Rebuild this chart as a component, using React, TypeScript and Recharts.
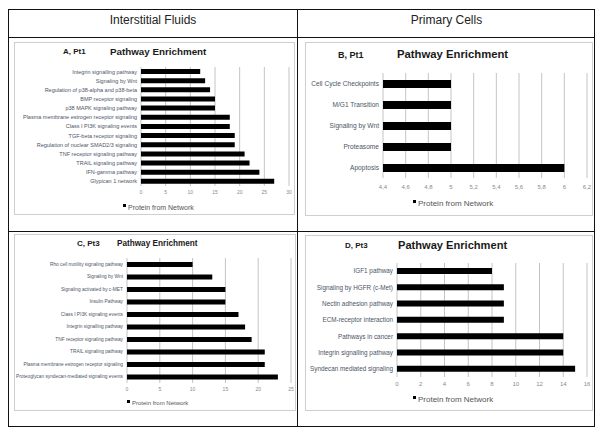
import { Bar, BarChart, CartesianGrid, XAxis, YAxis } from "recharts";

const FONT = '"Liberation Sans", Arial, Helvetica, sans-serif';

// A, Pt1 (interstitial fluids)
const fluidPt1Pathways = [
  "Integrin signalling pathway",
  "Signaling by Wnt",
  "Regulation of p38-alpha and p38-beta",
  "BMP receptor signaling",
  "p38 MAPK signaling pathway",
  "Plasma membrane estrogen receptor signaling",
  "Class I PI3K signaling events",
  "TGF-beta receptor signaling",
  "Regulation of nuclear SMAD2/3 signaling",
  "TNF receptor signaling pathway",
  "TRAIL signaling pathway",
  "IFN-gamma pathway",
  "Glypican 1 network",
];
const fluidPt1Counts = [12, 13, 14, 15, 15, 18, 18, 19, 19, 21, 22, 24, 27];
const fluidPt1Ticks = [0, 5, 10, 15, 20, 25, 30];

// B, Pt1 (primary cells)
const cellsPt1Pathways = [
  "Cell Cycle Checkpoints",
  "M/G1 Transition",
  "Signaling by Wnt",
  "Proteasome",
  "Apoptosis",
];
const cellsPt1Counts = [5, 5, 5, 5, 6];
const cellsPt1Ticks = [4.4, 4.6, 4.8, 5, 5.2, 5.4, 5.6, 5.8, 6, 6.2];

// C, Pt3 (interstitial fluids)
const fluidPt3Pathways = [
  "Rho cell motility signaling pathway",
  "Signaling by Wnt",
  "Signaling activated by c-MET",
  "Insulin Pathway",
  "Class I PI3K signaling events",
  "Integrin signalling pathway",
  "TNF receptor signaling pathway",
  "TRAIL signaling pathway",
  "Plasma membrane estrogen receptor signaling",
  "Proteoglycan syndecan-mediated signaling events",
];
const fluidPt3Counts = [10, 13, 15, 15, 17, 18, 19, 21, 21, 23];
const fluidPt3Ticks = [0, 5, 10, 15, 20, 25];

// D, Pt3 (primary cells)
const cellsPt3Pathways = [
  "IGF1 pathway",
  "Signaling by HGFR (c-Met)",
  "Nectin adhesion pathway",
  "ECM-receptor interaction",
  "Pathways in cancer",
  "Integrin signalling pathway",
  "Syndecan mediated signaling",
];
const cellsPt3Counts = [8, 9, 9, 9, 14, 14, 15];
const cellsPt3Ticks = [0, 2, 4, 6, 8, 10, 12, 14, 16];

const toRows = (names: string[], counts: number[]) =>
  names.map((name, i) => ({ name, count: counts[i] }));

type Box = { x: number; y: number; w: number; h: number };

type PanelProps = {
  tag: string;
  names: string[];
  counts: number[];
  ticks: number[];
  box: Box;
  margin: { top: number; right: number; bottom: number };
  yWidth: number;
  barSize: number;
  labelSize: number;
  tickSize: number;
  tickGap: number;
  tagPos: { x: number; y: number; size: number };
  title: { x: number; y: number; size: number };
  legend: { x: number; y: number; size: number };
  comma?: boolean;
};

function Panel(p: PanelProps) {
  const data = toRows(p.names, p.counts);
  const fmt = (v: number) => (p.comma ? String(v).replace(".", ",") : String(v));
  const CategoryTick = (t: any) => (
    <text
      x={t.x}
      y={t.y}
      dy="0.35em"
      textAnchor="end"
      fontSize={p.labelSize}
      fill="#4c5566"
      fontFamily={FONT}
    >
      {t.payload.value}
    </text>
  );
  return (
    <>
      <div
        style={{
          position: "absolute",
          left: p.box.x,
          top: p.box.y,
          width: p.box.w,
          height: p.box.h,
          boxSizing: "border-box",
          border: "1px solid #cfcfcf",
        }}
      >
        <BarChart
          width={p.box.w - 2}
          height={p.box.h - 2}
          data={data}
          layout="vertical"
          margin={{ top: p.margin.top - 1, right: p.margin.right - 1, bottom: p.margin.bottom - 1, left: -1 }}
        >
          <CartesianGrid horizontal={false} stroke="#c4c4c4" />
          <XAxis
            type="number"
            domain={[p.ticks[0], p.ticks[p.ticks.length - 1]]}
            ticks={p.ticks}
            tickFormatter={fmt}
            axisLine={false}
            tickLine={false}
            tickSize={0}
            tickMargin={p.tickGap}
            height={14}
            interval={0}
            tick={{ fontSize: p.tickSize, fill: "#8a8a8a", fontFamily: FONT }}
          />
          <YAxis
            type="category"
            dataKey="name"
            width={p.yWidth}
            axisLine={false}
            tickLine={false}
            tickSize={0}
            tickMargin={4}
            interval={0}
            tick={CategoryTick}
          />
          <Bar dataKey="count" name="Protein from Network" fill="#000" barSize={p.barSize} isAnimationActive={false} />
        </BarChart>
      </div>
      <Text x={p.tagPos.x} y={p.tagPos.y} size={p.tagPos.size} bold>
        {p.tag}
      </Text>
      <Text x={p.title.x} y={p.title.y} size={p.title.size} bold>
        Pathway Enrichment
      </Text>
      <div
        style={{
          position: "absolute",
          left: p.legend.x - 5,
          top: p.legend.y - p.legend.size * 0.45,
          width: 3,
          height: 3,
          background: "#000",
        }}
      />
      <Text x={p.legend.x} y={p.legend.y} size={p.legend.size} color="#555">
        Protein from Network
      </Text>
    </>
  );
}

function Text(props: { x: number; y: number; size: number; bold?: boolean; color?: string; children: string }) {
  return (
    <div
      style={{
        position: "absolute",
        left: props.x,
        top: props.y,
        transform: "translateY(-50%)",
        fontSize: props.size,
        lineHeight: 1,
        fontWeight: props.bold ? 700 : 400,
        color: props.color ?? "#1a1a1a",
        whiteSpace: "nowrap",
        fontFamily: FONT,
      }}
    >
      {props.children}
    </div>
  );
}

const line = "1.5px solid #111";

export default function App() {
  return (
    <div
      style={{
        position: "absolute",
        left: 0,
        top: 0,
        width: 601,
        height: 433,
        background: "#fff",
        fontFamily: FONT,
        overflow: "hidden",
      }}
    >
      {/* table frame */}
      <div style={{ position: "absolute", left: 8, top: 9, width: 587, height: 418, boxSizing: "border-box", border: line }} />
      <div style={{ position: "absolute", left: 8, top: 37, width: 587, borderTop: line }} />
      <div style={{ position: "absolute", left: 8, top: 231, width: 587, borderTop: line }} />
      <div style={{ position: "absolute", left: 297, top: 9, height: 418, borderLeft: line }} />
      <div style={{ position: "absolute", left: 8, top: 13, width: 290, textAlign: "center", fontSize: 12, color: "#222" }}>
        Interstitial Fluids
      </div>
      <div style={{ position: "absolute", left: 298, top: 13, width: 297, textAlign: "center", fontSize: 12, color: "#222" }}>
        Primary Cells
      </div>

      <Panel
        tag="A, Pt1"
        names={fluidPt1Pathways}
        counts={fluidPt1Counts}
        ticks={fluidPt1Ticks}
        box={{ x: 14, y: 42, w: 281, h: 173 }}
        margin={{ top: 25, right: 6, bottom: 15 }}
        yWidth={127}
        barSize={5}
        labelSize={5.5}
        tickSize={5}
        tickGap={4}
        tagPos={{ x: 63, y: 52, size: 8 }}
        title={{ x: 110, y: 52, size: 9.8 }}
        legend={{ x: 128, y: 207, size: 7 }}
      />
      <Panel
        tag="B, Pt1"
        names={cellsPt1Pathways}
        counts={cellsPt1Counts}
        ticks={cellsPt1Ticks}
        box={{ x: 305, y: 42, w: 288, h: 174 }}
        margin={{ top: 31, right: 6, bottom: 24 }}
        yWidth={78}
        barSize={8}
        labelSize={6.6}
        tickSize={6}
        tickGap={7}
        tagPos={{ x: 338, y: 55, size: 9 }}
        title={{ x: 397, y: 55, size: 11.3 }}
        legend={{ x: 418, y: 204, size: 8 }}
        comma
      />
      <Panel
        tag="C, Pt3"
        names={fluidPt3Pathways}
        counts={fluidPt3Counts}
        ticks={fluidPt3Ticks}
        box={{ x: 14, y: 234, w: 282, h: 177 }}
        margin={{ top: 24, right: 5, bottom: 14 }}
        yWidth={113}
        barSize={5}
        labelSize={4.8}
        tickSize={5}
        tickGap={4}
        tagPos={{ x: 77, y: 244, size: 8 }}
        title={{ x: 117, y: 244, size: 8.2 }}
        legend={{ x: 132, y: 403, size: 6 }}
      />
      <Panel
        tag="D, Pt3"
        names={cellsPt3Pathways}
        counts={cellsPt3Counts}
        ticks={cellsPt3Ticks}
        box={{ x: 305, y: 235, w: 288, h: 176 }}
        margin={{ top: 28, right: 6, bottom: 20 }}
        yWidth={92}
        barSize={6}
        labelSize={6.35}
        tickSize={6}
        tickGap={5}
        tagPos={{ x: 345, y: 246, size: 8 }}
        title={{ x: 398, y: 246, size: 11.1 }}
        legend={{ x: 418, y: 400, size: 8 }}
      />
    </div>
  );
}
